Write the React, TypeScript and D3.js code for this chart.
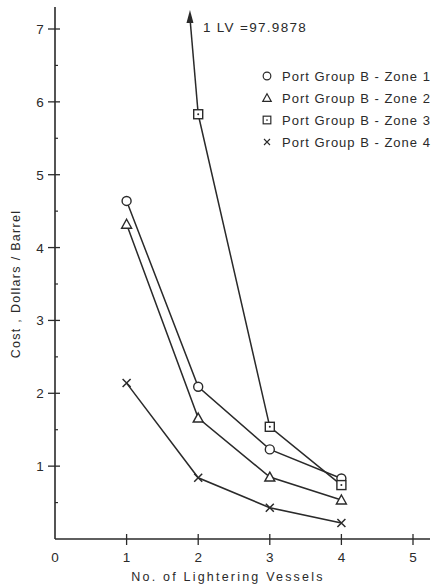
import React, { useEffect, useRef } from "react";
import * as d3 from "d3";

const vessels = [1, 2, 3, 4];
const zone1 = [4.64, 2.09, 1.23, 0.83];
const zone2 = [4.32, 1.66, 0.85, 0.535];
const zone3 = [null, 5.83, 1.54, 0.74];
const zone4 = [2.14, 0.84, 0.43, 0.22];
// zone 3 at one vessel runs off the chart; arrow drawn toward it
const zone3Arrow = { x: 1.885, y: 7.26 };
const zone3OneLV = "1 LV =97.9878";

const seriesNames = [
  "Port Group B - Zone 1",
  "Port Group B - Zone 2",
  "Port Group B - Zone 3",
  "Port Group B - Zone 4",
];
const xTicks = [0, 1, 2, 3, 4, 5];
const yTicks = [1, 2, 3, 4, 5, 6, 7];
const yMinor = [0.5, 1.5, 2.5, 3.5, 4.5, 5.5, 6.5];

const ink = "#2a2a2a";
const font = "'Liberation Sans', 'DejaVu Sans', sans-serif";

const App = () => {
  const ref = useRef(null);

  useEffect(() => {
    ref.current.innerHTML = null;
    const svg = d3.select(ref.current);

    const x = d3.scaleLinear().domain([0, 5]).range([55, 413]);
    const y = d3.scaleLinear().domain([0, 7]).range([539, 29]);

    // axes
    svg.append("line").attr("x1", x(0)).attr("x2", 430).attr("y1", y(0)).attr("y2", y(0))
      .attr("stroke", ink).attr("stroke-width", 1.6);
    svg.append("line").attr("x1", x(0)).attr("x2", x(0)).attr("y1", y(0)).attr("y2", 7)
      .attr("stroke", ink).attr("stroke-width", 1.6);

    svg.selectAll(".ytick").data(yTicks).enter().append("line")
      .attr("x1", x(0) - 7).attr("x2", x(0) + 5)
      .attr("y1", (d) => y(d)).attr("y2", (d) => y(d))
      .attr("stroke", ink).attr("stroke-width", 1.3);
    svg.selectAll(".yminor").data(yMinor).enter().append("line")
      .attr("x1", x(0)).attr("x2", x(0) + 3)
      .attr("y1", (d) => y(d)).attr("y2", (d) => y(d))
      .attr("stroke", ink).attr("stroke-width", 1.2);
    svg.selectAll(".ylab").data(yTicks).enter().append("text")
      .attr("x", x(0) - 15).attr("y", (d) => y(d) + 5)
      .attr("text-anchor", "middle").attr("font-size", 13.5).attr("font-family", font)
      .attr("fill", ink).text((d) => d);

    svg.selectAll(".xtick").data(xTicks.filter((d) => d > 0)).enter().append("line")
      .attr("x1", (d) => x(d)).attr("x2", (d) => x(d))
      .attr("y1", y(0) - 5).attr("y2", y(0) + 6)
      .attr("stroke", ink).attr("stroke-width", 1.3);
    svg.selectAll(".xlab").data(xTicks).enter().append("text")
      .attr("x", (d) => x(d)).attr("y", y(0) + 23)
      .attr("text-anchor", "middle").attr("font-size", 13.5).attr("font-family", font)
      .attr("fill", ink).text((d) => d);

    svg.append("text").attr("x", 228).attr("y", 581).attr("text-anchor", "middle")
      .attr("font-size", 12.5).attr("letter-spacing", 2.2).attr("font-family", font).attr("fill", ink)
      .text("No. of Lightering Vessels");
    svg.append("text").attr("transform", "translate(20,284) rotate(-90)")
      .attr("text-anchor", "middle").attr("font-size", 12.5).attr("letter-spacing", 1.3)
      .attr("font-family", font).attr("fill", ink)
      .text("Cost , Dollars / Barrel");

    const series = [zone1, zone2, zone3, zone4];
    const line = d3.line()
      .defined((d) => d[1] != null)
      .x((d) => x(d[0])).y((d) => y(d[1]));

    series.forEach((s) => {
      const pts = vessels.map((v, i) => [v, s[i]]);
      svg.append("path").attr("d", line(pts)).attr("fill", "none")
        .attr("stroke", ink).attr("stroke-width", 1.5);
    });

    // zone 3 arrow
    svg.append("line")
      .attr("x1", x(2)).attr("y1", y(zone3[1]))
      .attr("x2", x(zone3Arrow.x)).attr("y2", y(zone3Arrow.y) + 8)
      .attr("stroke", ink).attr("stroke-width", 1.5);
    const tx = x(zone3Arrow.x), ty = y(zone3Arrow.y);
    svg.append("path")
      .attr("d", `M${tx},${ty} L${tx - 3.5},${ty + 13} L${tx + 3.5},${ty + 13} Z`)
      .attr("fill", ink);
    svg.append("text").attr("x", tx + 13).attr("y", ty + 22)
      .attr("font-size", 13.5).attr("letter-spacing", 1.3).attr("font-family", font).attr("fill", ink)
      .text(zone3OneLV);

    const marker = (g, k, cx, cy) => {
      if (k === 0) {
        g.append("circle").attr("cx", cx).attr("cy", cy).attr("r", 4.5)
          .attr("fill", "white").attr("stroke", ink).attr("stroke-width", 1.4);
      } else if (k === 1) {
        g.append("path")
          .attr("d", `M${cx},${cy - 5} L${cx + 5},${cy + 4} L${cx - 5},${cy + 4} Z`)
          .attr("fill", "white").attr("stroke", ink).attr("stroke-width", 1.4);
      } else if (k === 2) {
        g.append("rect").attr("x", cx - 4.5).attr("y", cy - 4.5).attr("width", 9).attr("height", 9)
          .attr("fill", "white").attr("stroke", ink).attr("stroke-width", 1.4);
        g.append("circle").attr("cx", cx).attr("cy", cy).attr("r", 1).attr("fill", ink);
      } else {
        g.append("path")
          .attr("d", `M${cx - 4},${cy - 4} L${cx + 4},${cy + 4} M${cx + 4},${cy - 4} L${cx - 4},${cy + 4}`)
          .attr("stroke", ink).attr("stroke-width", 1.5);
      }
    };

    series.forEach((s, k) => {
      vessels.forEach((v, i) => {
        if (s[i] != null) marker(svg, k, x(v), y(s[i]));
      });
    });

    // legend
    const lg = svg.append("g");
    seriesNames.forEach((name, k) => {
      const cy = 76 + k * 22;
      const scale = k === 3 ? 0.75 : 0.85;
      const g = lg.append("g").attr("transform", `translate(267,${cy}) scale(${scale}) translate(-267,${-cy})`);
      marker(g, k, 267, cy);
      lg.append("text").attr("x", 282).attr("y", cy + 5)
        .attr("font-size", 13).attr("letter-spacing", 1.0).attr("font-family", font)
        .attr("fill", ink).text(name);
    });
  }, []);

  return (
    <svg width={433} height={585} style={{ position: "absolute", left: 0, top: 0, background: "white" }}>
      <g ref={ref} />
    </svg>
  );
};

export default App;
